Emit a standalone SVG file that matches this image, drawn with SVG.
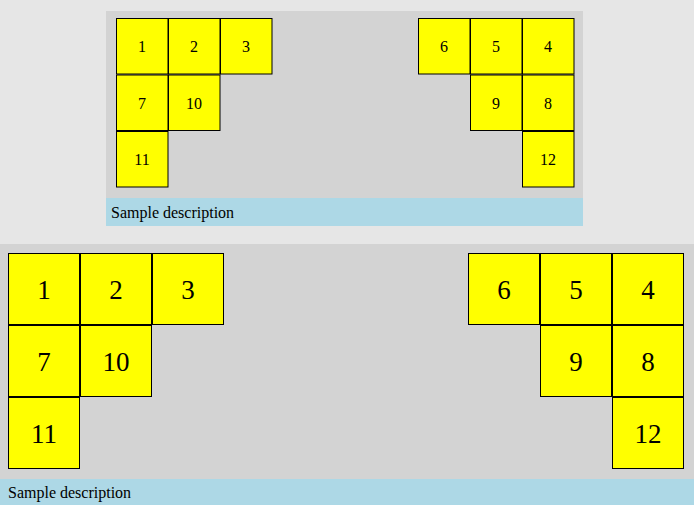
<svg xmlns="http://www.w3.org/2000/svg" width="694" height="505" viewBox="0 0 694 505">
<style>
.cell{fill:#ffff00;stroke:#000;stroke-width:1}
.small{font-family:"Liberation Serif","Times New Roman",serif;font-size:16px;fill:#000;text-anchor:middle}
.big{font-family:"Liberation Serif","Times New Roman",serif;font-size:27px;fill:#000;text-anchor:middle}
.desc{font-family:"Liberation Serif","Times New Roman",serif;font-size:16px;fill:#000}
</style>
<rect x="0" y="0" width="694" height="505" fill="#e6e6e6"/>
<g id="top-panel">
<rect x="106" y="11" width="477" height="215" fill="#d3d3d3"/>
<rect x="106" y="198" width="477" height="28" fill="#add8e6"/>
<text class="desc" x="111" y="218">Sample description</text>
</g>
<g id="top-n1"><rect class="cell" x="116.5" y="18.5" width="51.5" height="55.5"/><text class="small" x="142" y="52">1</text></g>
<g id="top-n2"><rect class="cell" x="168.5" y="18.5" width="51.5" height="55.5"/><text class="small" x="194" y="52">2</text></g>
<g id="top-n3"><rect class="cell" x="220.5" y="18.5" width="51.5" height="55.5"/><text class="small" x="246" y="52">3</text></g>
<g id="top-n7"><rect class="cell" x="116.5" y="75" width="51.5" height="55.5"/><text class="small" x="142" y="108.5">7</text></g>
<g id="top-n10"><rect class="cell" x="168.5" y="75" width="51.5" height="55.5"/><text class="small" x="194" y="108.5">10</text></g>
<g id="top-n11"><rect class="cell" x="116.5" y="131.5" width="51.5" height="55.5"/><text class="small" x="142" y="165">11</text></g>
<g id="top-n6"><rect class="cell" x="418.5" y="18.5" width="51.5" height="55.5"/><text class="small" x="444" y="52">6</text></g>
<g id="top-n5"><rect class="cell" x="470.5" y="18.5" width="51.5" height="55.5"/><text class="small" x="496" y="52">5</text></g>
<g id="top-n4"><rect class="cell" x="522.5" y="18.5" width="51.5" height="55.5"/><text class="small" x="548" y="52">4</text></g>
<g id="top-n9"><rect class="cell" x="470.5" y="75" width="51.5" height="55.5"/><text class="small" x="496" y="108.5">9</text></g>
<g id="top-n8"><rect class="cell" x="522.5" y="75" width="51.5" height="55.5"/><text class="small" x="548" y="108.5">8</text></g>
<g id="top-n12"><rect class="cell" x="522.5" y="131.5" width="51.5" height="55.5"/><text class="small" x="548" y="165">12</text></g>
<g id="bottom-panel">
<rect x="0" y="244" width="694" height="261" fill="#d3d3d3"/>
<rect x="0" y="479" width="694" height="26" fill="#add8e6"/>
<text class="desc" x="8" y="498">Sample description</text>
</g>
<g id="bot-n1"><rect class="cell" x="8.5" y="253.5" width="71" height="71"/><text class="big" x="44" y="298.5">1</text></g>
<g id="bot-n2"><rect class="cell" x="80.5" y="253.5" width="71" height="71"/><text class="big" x="116" y="298.5">2</text></g>
<g id="bot-n3"><rect class="cell" x="152.5" y="253.5" width="71" height="71"/><text class="big" x="188" y="298.5">3</text></g>
<g id="bot-n7"><rect class="cell" x="8.5" y="325.5" width="71" height="71"/><text class="big" x="44" y="370.5">7</text></g>
<g id="bot-n10"><rect class="cell" x="80.5" y="325.5" width="71" height="71"/><text class="big" x="116" y="370.5">10</text></g>
<g id="bot-n11"><rect class="cell" x="8.5" y="397.5" width="71" height="71"/><text class="big" x="44" y="442.5">11</text></g>
<g id="bot-n6"><rect class="cell" x="468.5" y="253.5" width="71" height="71"/><text class="big" x="504" y="298.5">6</text></g>
<g id="bot-n5"><rect class="cell" x="540.5" y="253.5" width="71" height="71"/><text class="big" x="576" y="298.5">5</text></g>
<g id="bot-n4"><rect class="cell" x="612.5" y="253.5" width="71" height="71"/><text class="big" x="648" y="298.5">4</text></g>
<g id="bot-n9"><rect class="cell" x="540.5" y="325.5" width="71" height="71"/><text class="big" x="576" y="370.5">9</text></g>
<g id="bot-n8"><rect class="cell" x="612.5" y="325.5" width="71" height="71"/><text class="big" x="648" y="370.5">8</text></g>
<g id="bot-n12"><rect class="cell" x="612.5" y="397.5" width="71" height="71"/><text class="big" x="648" y="442.5">12</text></g>
<g id="connectors"></g>
</svg>
